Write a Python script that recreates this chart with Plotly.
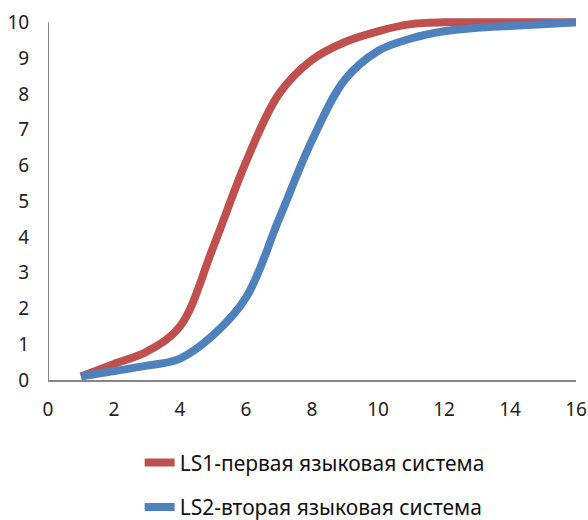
import plotly.graph_objects as go

# Values per integer step of the time axis
x_vals = [1, 2, 3, 4, 5, 6, 7, 8, 9, 10, 11, 12, 13, 14, 15, 16]
ls1_vals = [0.1, 0.45, 0.8, 1.5, 3.7, 6.1, 8.0, 8.95, 9.45, 9.75, 9.95, 10.0, 10.0, 10.0, 10.0, 10.0]
ls2_vals = [0.1, 0.25, 0.4, 0.6, 1.25, 2.3, 4.5, 6.7, 8.4, 9.2, 9.55, 9.75, 9.85, 9.9, 9.95, 10.0]

x_ticks = [0, 2, 4, 6, 8, 10, 12, 14, 16]
y_ticks = [0, 1, 2, 3, 4, 5, 6, 7, 8, 9, 10]

name1 = "LS1-первая языковая система"
name2 = "LS2-вторая языковая система"

RED = "#C0504D"
BLUE = "#4F81BD"
AXIS = "#868686"
FONT = "Noto Sans"

fig = go.Figure()
fig.add_trace(go.Scatter(
    x=x_vals, y=ls1_vals, name=name1, mode="lines", legendgroup="a",
    line=dict(color=RED, width=8, shape="spline", smoothing=1.0),
))
fig.add_trace(go.Scatter(
    x=x_vals, y=ls2_vals, name=name2, mode="lines", legendgroup="b",
    line=dict(color=BLUE, width=8, shape="spline", smoothing=1.0),
))

# vertical axis line drawn from 0 to 10 only
fig.add_shape(type="line", xref="x", yref="y", x0=0, x1=0, y0=0, y1=10,
              line=dict(color=AXIS, width=2), layer="below")

fig.update_layout(
    width=588, height=520,
    margin=dict(l=48, r=12, t=17, b=140, autoexpand=False),
    paper_bgcolor="white", plot_bgcolor="white",
    font=dict(family=FONT, size=19, color="#222222"),
    showlegend=True,
    legend=dict(
        orientation="v", x=0.505, xanchor="center", y=-0.172, yanchor="top",
        font=dict(family=FONT, size=21, color="#111111"),
        tracegroupgap=14, bgcolor="rgba(0,0,0,0)",
    ),
    xaxis=dict(
        range=[0, 16], tickvals=x_ticks, ticktext=[str(v) for v in x_ticks],
        showgrid=False, zeroline=False, showline=True, linecolor=AXIS, linewidth=2,
        ticks="outside", ticklen=11, tickcolor="rgba(0,0,0,0)",
        tickfont=dict(family=FONT, size=19, color="#222222"),
    ),
    yaxis=dict(
        range=[0, 10.15], tickvals=y_ticks, ticktext=[str(v) for v in y_ticks],
        showgrid=False, zeroline=False, showline=False,
        ticks="outside", ticklen=14, tickcolor="rgba(0,0,0,0)",
        tickfont=dict(family=FONT, size=19, color="#222222"),
    ),
)

fig.write_html("out.html")
